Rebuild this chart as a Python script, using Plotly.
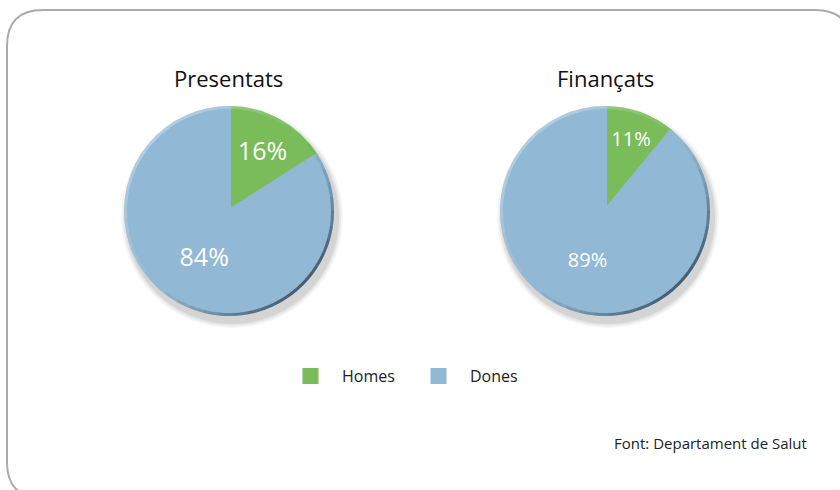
import math
import plotly.graph_objects as go

# ---- data ----
categories = ["Homes", "Dones"]
presentats = [16, 84]
financats = [11, 89]
chart_titles = ["Presentats", "Finançats"]
source_text = "Font: Departament de Salut"
colors = ["#79BC59", "#91B8D4"]

W, H = 840, 490


def px(x):
    return x / W


def py(y):
    return 1 - y / H


# pie geometry (pixels)
pies = [(229, 211, 103), (605, 211, 103)]

fig = go.Figure()
for i, ((cx, cy, r), vals, fs) in enumerate(zip(pies, [presentats, financats], [25, 20])):
    fig.add_trace(go.Pie(
        labels=categories, values=vals,
        marker=dict(colors=colors, line=dict(color=colors, width=4)),
        sort=False, direction="clockwise", rotation=0,
        texttemplate="%{value}%",
        textposition="inside", insidetextorientation="horizontal",
        textfont=dict(color="white", size=fs, family="Open Sans"),
        domain=dict(x=[px(cx - r), px(cx + r)], y=[py(cy + r), py(cy - r)]),
        hoverinfo="label+percent", showlegend=(i == 0),
    ))

shapes = []
# rounded outer frame
L, T, R, B, rad = 7, 10, 851, 498, 36
path = (f"M {px(L)},{py(T + rad)} Q {px(L)},{py(T)} {px(L + rad)},{py(T)} "
        f"L {px(R - rad)},{py(T)} Q {px(R)},{py(T)} {px(R)},{py(T + rad)} "
        f"L {px(R)},{py(B - rad)} Q {px(R)},{py(B)} {px(R - rad)},{py(B)} "
        f"L {px(L + rad)},{py(B)} Q {px(L)},{py(B)} {px(L)},{py(B - rad)} Z")
shapes.append(dict(type="path", path=path, xref="paper", yref="paper",
                   line=dict(color="#ABABAB", width=2), fillcolor="white", layer="below"))

R_OUT = 105  # outer visual radius (domain radius + stroke)
for (cx, cy, r) in pies:
    # soft drop shadow
    for k, op in [(12, 0.04), (8, 0.06), (4, 0.08)]:
        shapes.append(dict(type="circle", xref="paper", yref="paper",
                           x0=px(cx - R_OUT + 3 - k / 2), x1=px(cx + R_OUT + 3 + k / 2),
                           y0=py(cy + R_OUT + 6 + k / 2), y1=py(cy - R_OUT + 6 - k / 2),
                           fillcolor=f"rgba(0,0,0,{op})", line=dict(width=0), layer="below"))
    # directional bevel rim: dark bottom-right, light top-left
    step = 8
    for a0 in range(0, 360, step):
        mid = math.radians(a0 + step / 2)
        shade = math.cos(mid - math.radians(-45))
        rr = R_OUT - 1.5
        pts = []
        for j in range(0, step + 1, 2):
            a = math.radians(a0 + j)
            pts.append((px(cx + rr * math.cos(a)), py(cy - rr * math.sin(a))))
        d = "M " + " L ".join(f"{x},{y}" for x, y in pts)
        if shade > 0.05:
            col = f"rgba(30,45,60,{0.65 * shade ** 1.5:.3f})"
        elif shade < -0.05:
            col = f"rgba(255,255,255,{0.3 * (-shade):.3f})"
        else:
            continue
        shapes.append(dict(type="path", path=d, xref="paper", yref="paper",
                           line=dict(color=col, width=3), layer="above"))

annotations = []
for (cx, cy, r), t in zip(pies, chart_titles):
    annotations.append(dict(text=t, x=px(cx), y=py(78), xref="paper", yref="paper",
                            showarrow=False, xanchor="center", yanchor="middle",
                            font=dict(size=22, color="#111111", family="Open Sans")))
annotations.append(dict(text=source_text, x=px(809), y=py(443), xref="paper", yref="paper",
                        showarrow=False, xanchor="right", yanchor="middle",
                        font=dict(size=15, color="#222222", family="Open Sans")))

fig.update_layout(
    width=W, height=H,
    margin=dict(l=0, r=0, t=0, b=0),
    paper_bgcolor="white", plot_bgcolor="white",
    shapes=shapes, annotations=annotations,
    legend=dict(orientation="h", x=px(279), y=py(376), xanchor="left", yanchor="middle",
                font=dict(size=16, color="#222222", family="Open Sans"),
                itemwidth=53, entrywidth=60, entrywidthmode="pixels",
                bgcolor="rgba(0,0,0,0)"),
)

fig.write_html("out.html", config={"displayModeBar": False},
               post_script="document.body.style.margin='0';document.body.style.overflow='hidden';")
